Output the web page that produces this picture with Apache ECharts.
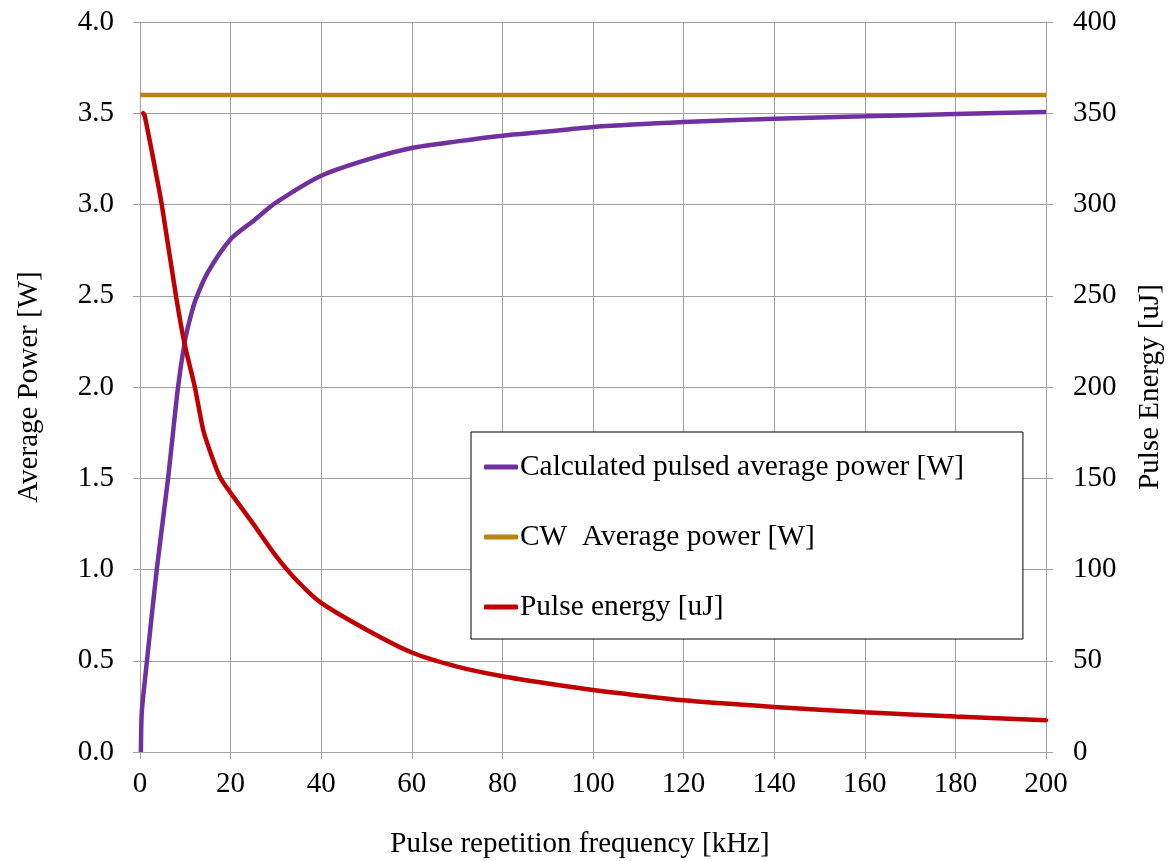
<!DOCTYPE html>
<html>
<head>
<meta charset="utf-8">
<script src="https://cdn.jsdelivr.net/npm/echarts@6/dist/echarts.min.js"></script>
<style>
html,body{margin:0;padding:0;background:#fff;}
#chart{width:1169px;height:861px;}
</style>
</head>
<body>
<div id="chart"></div>
<script>
// Pulse repetition frequency [kHz] for the calculated pulsed average power
const freqPower = [0.2, 0.4, 1.5, 3.7, 6.2, 8.4, 9.9, 11, 12.3, 15, 20, 25, 30, 40, 50, 60, 70, 80, 90, 100, 120, 140, 160, 180, 200];
const pulsedPower = [0, 0.22, 0.49, 1.0, 1.5, 2.0, 2.25, 2.37, 2.48, 2.63, 2.81, 2.91, 3.01, 3.158, 3.245, 3.31, 3.346, 3.377, 3.40, 3.425, 3.452, 3.47, 3.483, 3.496, 3.507];

// CW average power
const freqCW = [0, 200];
const cwPower = [3.6, 3.6];

// Pulse energy [uJ]
const freqEnergy = [0.7, 1.0, 3, 4.8, 8, 9.9, 12.1, 14, 16, 17.8, 20, 25, 30, 35, 40, 50, 60, 70, 80, 90, 100, 120, 140, 160, 180, 200];
const pulseEnergy = [350, 349, 324, 300, 249, 223, 200, 176, 161, 150, 142, 125, 107.5, 93, 81.7, 67, 54.5, 46.8, 41.5, 37.5, 34, 28.3, 24.7, 21.8, 19.5, 17.4];

const seriesNames = ['Calculated pulsed average power [W]', 'CW  Average power [W]', 'Pulse energy [uJ]'];

const pairs = (xs, ys) => xs.map((x, i) => [x, ys[i]]);

const FONT = '"Liberation Serif", "Times New Roman", serif';
const GRID = '#a0a0a0';

const chart = echarts.init(document.getElementById('chart'), null, {renderer: 'canvas'});
chart.setOption({
  backgroundColor: '#ffffff',
  animation: false,
  textStyle: {fontFamily: FONT, color: '#000'},
  grid: {left: 140, right: 123, top: 22, bottom: 109, containLabel: false, outerBoundsMode: 'none'},
  legend: {
    orient: 'vertical',
    left: 471,
    top: 432,
    data: seriesNames,
    icon: 'roundRect',
    backgroundColor: '#fff',
    borderColor: '#000',
    borderWidth: 1,
    padding: [20, 59, 17, 13],
    itemGap: 40,
    itemWidth: 34,
    itemHeight: 5,
    textStyle: {fontFamily: FONT, fontSize: 29.4, color: '#000', lineHeight: 30, padding: [0, 0, 0, -3]}
  },
  xAxis: {
    type: 'value',
    min: 0, max: 200, interval: 20,
    name: 'Pulse repetition frequency [kHz]',
    nameLocation: 'middle',
    nameGap: 78,
    nameTextStyle: {fontFamily: FONT, fontSize: 29, color: '#000', padding: [0, 26, 0, 0]},
    axisLine: {show: true, onZero: false, lineStyle: {color: GRID, width: 1}},
    axisTick: {show: true, inside: false, length: 7, lineStyle: {color: GRID}},
    axisLabel: {fontFamily: FONT, fontSize: 29, color: '#000', margin: 18},
    splitLine: {show: true, lineStyle: {color: GRID, width: 1}}
  },
  yAxis: [
    {
      type: 'value',
      position: 'left',
      min: 0, max: 4, interval: 0.5,
      name: 'Average Power [W]',
      nameLocation: 'middle',
      nameGap: 96,
      nameTextStyle: {fontFamily: FONT, fontSize: 29, color: '#000'},
      axisLine: {show: true, lineStyle: {color: GRID, width: 1}},
      axisTick: {show: true, inside: false, length: 7, lineStyle: {color: GRID}},
      axisLabel: {fontFamily: FONT, fontSize: 29, color: '#000', margin: 26, formatter: v => v.toFixed(1)},
      splitLine: {show: true, lineStyle: {color: GRID, width: 1}}
    },
    {
      type: 'value',
      position: 'right',
      min: 0, max: 400, interval: 50,
      name: 'Pulse Energy [uJ]',
      nameLocation: 'middle',
      nameGap: 90,
      nameRotate: 90,
      nameTextStyle: {fontFamily: FONT, fontSize: 29, color: '#000'},
      axisLine: {show: true, lineStyle: {color: GRID, width: 1}},
      axisTick: {show: true, inside: false, length: 7, lineStyle: {color: GRID}},
      axisLabel: {fontFamily: FONT, fontSize: 29, color: '#000', margin: 27},
      splitLine: {show: false}
    }
  ],
  series: [
    {
      name: seriesNames[0],
      type: 'line',
      yAxisIndex: 0,
      data: pairs(freqPower, pulsedPower),
      showSymbol: false, symbol: 'none',
      smooth: 0.25,
      lineStyle: {color: '#7030A0', width: 4.5},
      itemStyle: {color: '#7030A0'},
      z: 3
    },
    {
      name: seriesNames[1],
      type: 'line',
      yAxisIndex: 0,
      data: pairs(freqCW, cwPower),
      showSymbol: false, symbol: 'none',
      lineStyle: {color: '#B8860B', width: 4.5},
      itemStyle: {color: '#B8860B'},
      z: 2
    },
    {
      name: seriesNames[2],
      type: 'line',
      yAxisIndex: 1,
      data: pairs(freqEnergy, pulseEnergy),
      showSymbol: false, symbol: 'none',
      smooth: 0.25,
      lineStyle: {color: '#C00000', width: 4.5, cap: 'round'},
      itemStyle: {color: '#C00000'},
      z: 4
    }
  ]
});
</script>
</body>
</html>
